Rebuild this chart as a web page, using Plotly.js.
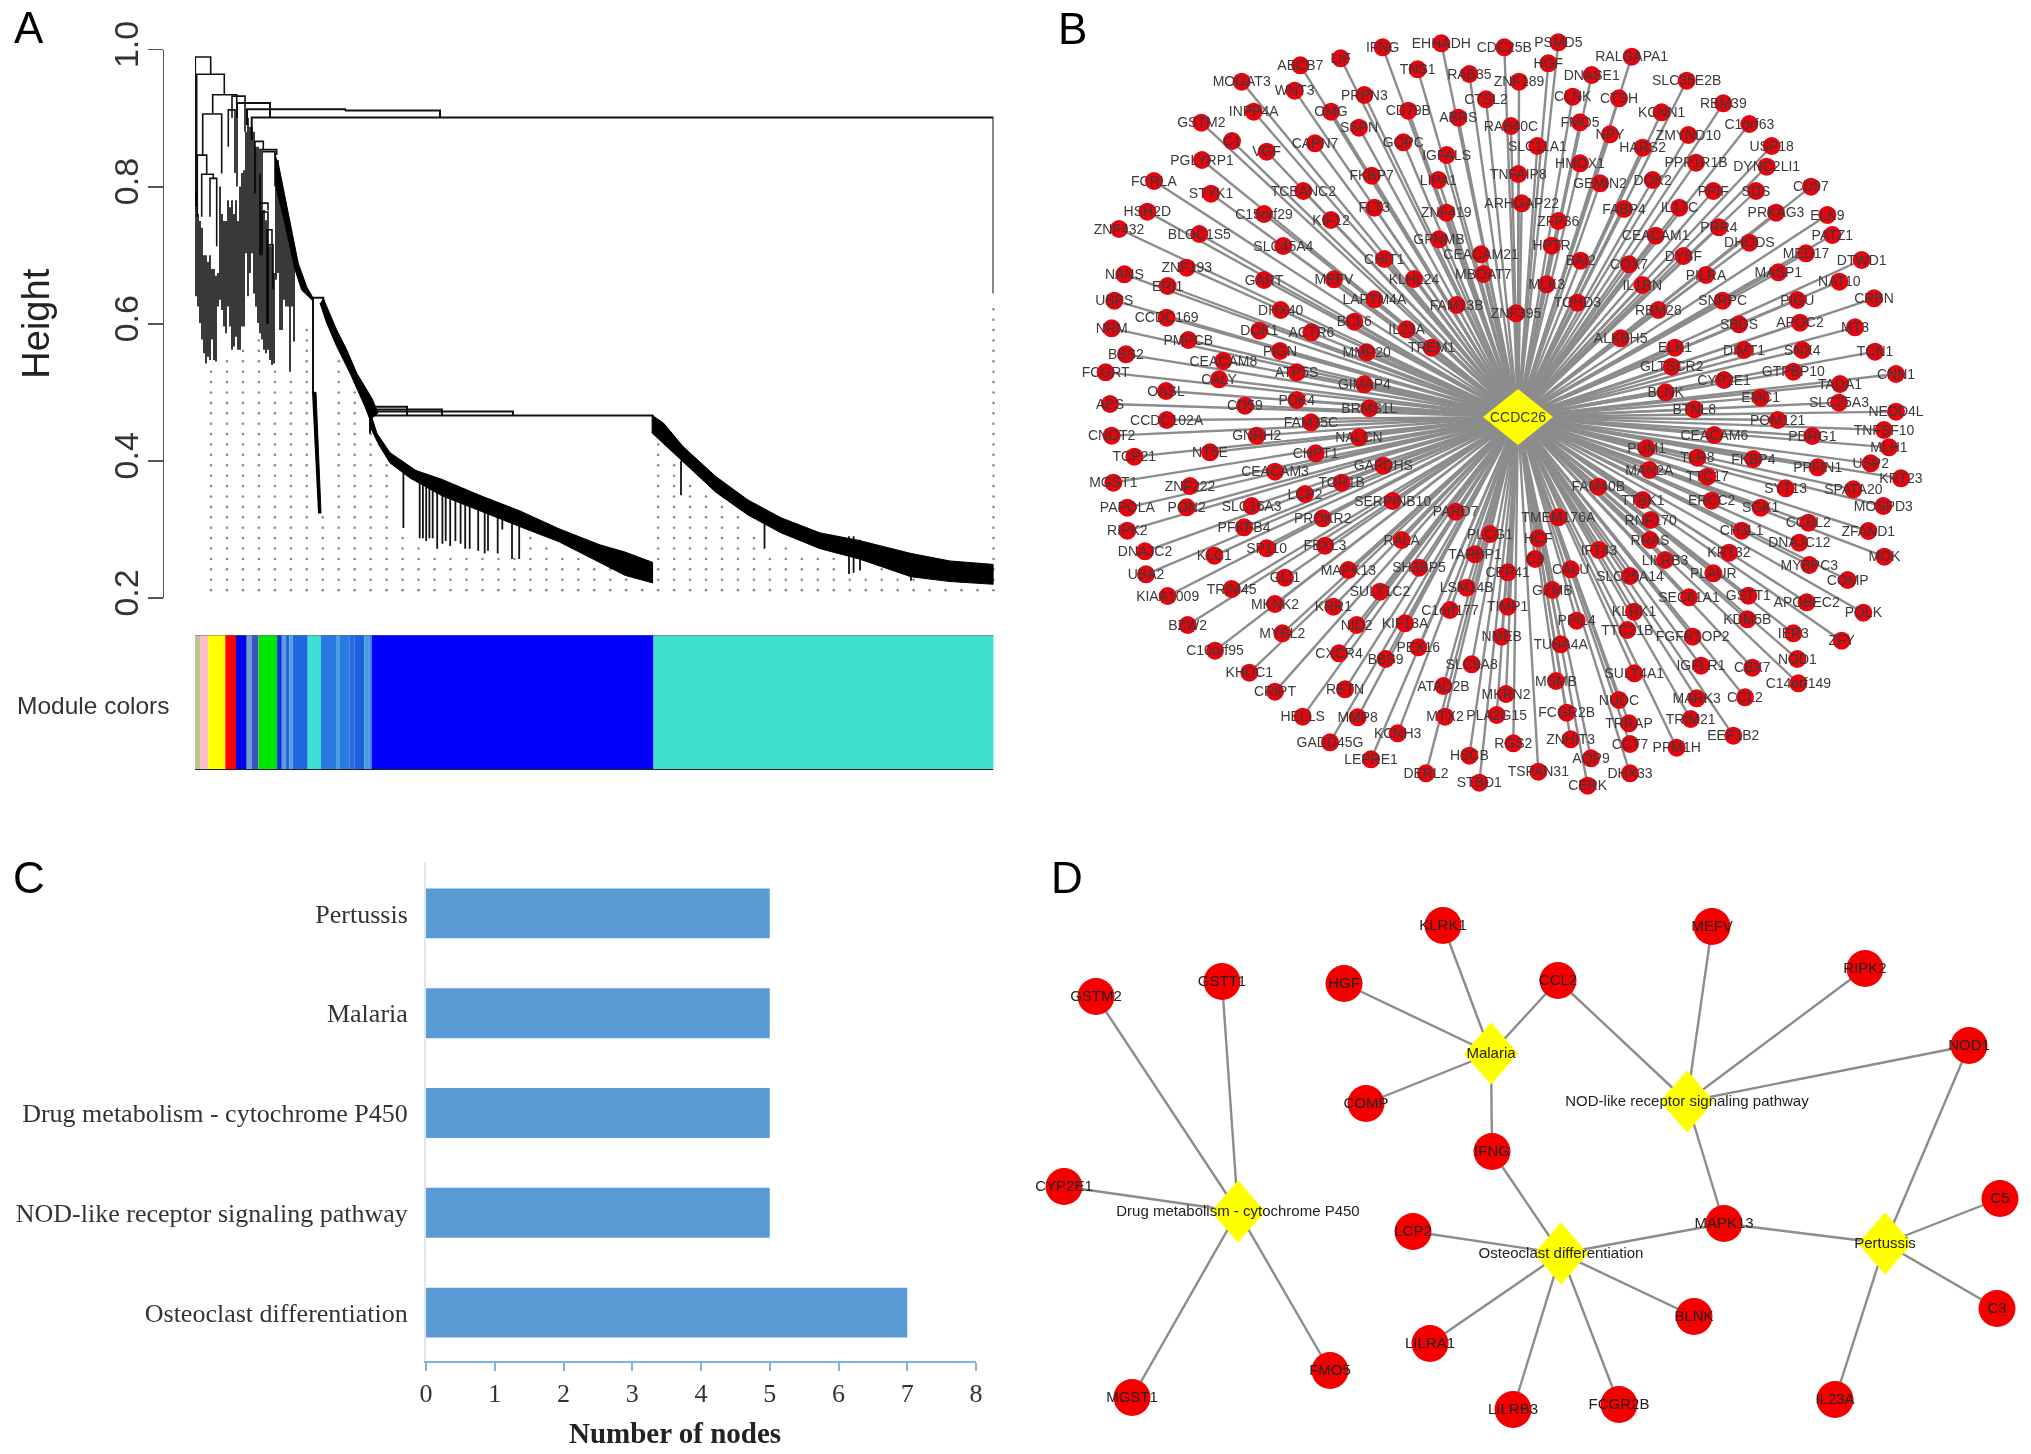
<!DOCTYPE html>
<html><head><meta charset="utf-8">
<script src="https://cdn.plot.ly/plotly-3.0.1.min.js"></script>
<style>html,body{margin:0;padding:0;background:#fff}#chart{width:2031px;height:1454px;filter:blur(0.6px)}</style>
</head><body><div id="chart"></div>
<script>
// ---------- Panel A: dendrogram merges [x0, x1, height, leftLegEnd, rightLegEnd]
const merges = [
 [195.3,210.7,.989,.771,.964],[196.7,224.3,.964,.771,.935],[212.7,236.7,.934,.907,.92],[232,245,.932,.90,.92],
 [202.7,221.7,.906,.846,.819],[197.3,206.7,.846,.756,.818],[201.7,213.3,.818,.756,.812],[210,216.7,.812,.756,.713],
 [228.3,235,.912,.858,.82],[237,245,.922,.80,.88],[255,263.3,.866,.79,.854],[260,276.7,.854,.776,.846],
 [262,275,.851,.776,.80],[260,268,.776,.70,.765],[262,268,.763,.70,.737],[267,272,.737,.60,.715],[268,273,.715,.60,.65]
];
const thickMerges = [
 [237,270,.922,.90,.90],[247,345,.913,.89,.911],[345,440,.911,.911,.901],[251.7,993.5,.901,.868,.644],
 [371.7,407,.479,.466,.466],[371.7,442,.475,.466,.466],[371.7,513,.472,.466,.466],[370,652.6,.466,.44,.44],
 [313,323.3,.638,.50,.63]
];
const clutterX = [196,198,200,202,204,206,208,210,212,214,216,218,220,222,224,226,228,230,232,234,236,238,240,242,244,246,248,250,252,254,256,258,260,262,264,266,268,270,272,274,276,278,280,282,284,286,288,290,292,294];
const clutterTop = [.790,.760,.750,.740,.700,.700,.690,.700,.680,.680,.670,.674,.800,.760,.750,.750,.780,.770,.780,.760,.780,.750,.800,.820,.824,.880,.900,.887,.887,.880,.858,.858,.819,.776,.766,.751,.737,.713,.713,.674,.830,.839,.819,.790,.785,.776,.747,.727,.713,.698];
const clutterBottom = [.640,.625,.601,.577,.557,.542,.552,.547,.577,.547,.545,.625,.635,.620,.596,.586,.625,.596,.562,.567,.581,.562,.562,.596,.596,.703,.640,.674,.703,.644,.625,.601,.586,.577,.562,.557,.562,.547,.540,.542,.664,.674,.591,.591,.635,.625,.625,.530,.625,.574];
const bandA_x = [275,276.7,283.3,288.3,295,301.7,311.7,313.3,306.7,298.3,291.7,285,278.3];
const bandA_h = [.849,.795,.756,.722,.679,.649,.635,.637,.654,.688,.737,.785,.834];
const bandB_x = [320,326.7,336.7,350,365,370,378,372,356.7,346.7,336.7,323.3];
const bandB_h = [.630,.601,.567,.528,.479,.460,.470,.491,.528,.562,.591,.637];
const bandC_x = [370,377,390,416,442,481,520,559,599,625,652.6,652.6,625,599,559,520,481,442,410,390,379,370];
const bandC_h = [.472,.440,.412,.386,.373,.349,.327,.301,.278,.267,.252,.222,.233,.252,.282,.304,.326,.349,.375,.397,.423,.450];
const bandD_x = [652.6,663.6,683,716,748,781,820,859,911,950,993.5,993.5,950,911,859,820,781,748,716,683,663.6,652.6];
const bandD_h = [.466,.455,.421,.377,.343,.317,.295,.284,.265,.254,.249,.220,.224,.231,.257,.272,.295,.321,.354,.399,.425,.440];
const spike_x = [312,316,321,318];
const spike_h = [.50,.50,.324,.324];
const hangX = [403.4,419.7,422.9,426.2,429.4,432.7,437.2,442.4,445.7,450.2,455.4,460.6,465.2,469.7,478.2,484.7,488,497.7,502.3,512,519.2,681,764.5,849,853.6,860,911];
const hangTop = [.385,.37,.37,.37,.365,.365,.36,.355,.35,.345,.345,.34,.34,.335,.33,.33,.325,.32,.32,.31,.31,.40,.32,.29,.29,.285,.24];
const hangBottom = [.302,.287,.287,.283,.287,.287,.272,.279,.283,.276,.283,.279,.272,.272,.269,.265,.269,.265,.30,.257,.257,.35,.272,.235,.237,.24,.225];
const guideTop = [.544,.559,.566,.581,.540,.529,.596,.324,.559,.522,.469,.402,.302,.287,.272,.272,.269,.267,.265,.257,.291,.283,.272,.257,.250,.243,.231,.224,.432,.402,.373,.354,.336,.321,.302,.272,.283,.272,.261,.257,.235,.235,.243,.235,.228,.224,.224,.220,.220,.622];
// Module colour strip
const moduleWidths = [5,8.3,17,10.7,10.7,5,6.7,18.7,4.7,4.3,3.3,3.3,15,13.3,15,3.3,10,5,10,5,2.3,281.9,340.9];
const moduleColors = ['#b9c98c','#ffc0cb','#ffff00','#ff0000','#0000ee','#6b9fc9','#3a55c0','#00e600','#0a2fe0','#5d9ae0','#2060e0','#50a0e0','#2068e0','#40e0d0','#2a78e0','#4aa0e0','#2a7ce0','#2a68e0','#1a60e0','#40a0e0','#3a80e0','#0000ff','#40e0d0'];

// ---------- Panel B: network nodes [name, x, y], read per 3x crop
const nodesB_topLeft = [["IFNG",1028,82],["EHHADH",1204,70],["CDC25B",1393,82],["ABCB7",781,136],["LIF",902,115],["TNS1",1133,148],["RAB35",1288,162],["ZNF189",1437,185],["MOGAT3",605,185],["WNT3",764,212],["PRPN3",973,225],["CTSL2",1338,238],["CD79B",1105,272],["ABRS",1255,293],["INPP4A",641,275],["OMG",873,275],["GSTM2",484,308],["SSPN",957,323],["RAB40C",1413,318],["C1",576,363],["CAPN7",825,370],["GOPC",1090,367],["VGF",680,395],["IGFALS",1220,405],["PGLYRP1",486,420],["TNFAIP8",1435,462],["FKBP7",995,467],["LIPA1",1195,480],["FCRLA",342,483],["TCEANC2",790,513],["STYK1",513,521],["ARHGAP22",1445,550],["FLT3",1003,563],["ZNF419",1219,578],["C15orf29",672,582],["HSH2D",322,575],["KIF12",873,600],["ZNF432",237,627],["BLOC1S5",478,642],["GPNMB",1197,658],["SLC45A4",730,678],["CEACAM21",1323,703],["CHIT1",1033,717],["ZNF193",440,743],["MEFV",882,778],["KLHL24",1122,777],["MBOAT7",1330,762],["NANS",253,763],["ERI1",383,798],["GART",672,780],["LAPTM4A",1003,838],["FAM13B",1250,855],["UBPS",223,842],["DHX40",722,870],["CCDC169",380,893],["ZNF395",1428,880],["BCL6",943,905],["NRM",215,925],["DOK1",658,932],["ACTR6",814,937],["IL23A",1100,928],["TREM1",1175,983],["PMPCB",445,960],["PIGN",720,993],["BBS2",258,1003],["MMP20",980,997],["CEACAM8",550,1023],["ATP5S",770,1057],["FCGRT",197,1057],["GIMAP4",973,1093],["CALY",537,1078],["OASL",378,1113],["AES",210,1152],["CD59",615,1157],["PDK4",770,1140],["BRMS1L",988,1165]];
const nodesB_topRight = [["PSMD5",115,67],["HGF",85,130],["RALGAPA1",335,110],["DNASE1",215,165],["SLC35E2B",500,182],["CLNK",158,230],["CTSH",297,235],["RBM39",610,250],["KCNN1",425,277],["FMO5",180,307],["C1orf63",688,312],["NPY",270,343],["ZMYND10",505,345],["SLC11A1",52,378],["HARS2",368,383],["USP18",755,378],["HMOX1",180,430],["PPP1R1B",528,428],["DYNC2LI1",740,440],["GEMIN2",240,490],["DOK2",398,480],["PPIF",580,513],["SDS",708,513],["CD97",873,500],["ZFP36",115,603],["FABP4",312,567],["IL17C",478,563],["PRKAG3",768,578],["ELK9",922,585],["PRR4",597,622],["CEACAM1",407,647],["DHODS",688,668],["PATZ1",937,645],["HPTR",95,677],["BAI2",182,722],["COX7",327,733],["DYSF",490,708],["MED17",858,700],["DTWD1",1025,720],["PILRA",558,765],["MASP1",775,757],["NAT10",958,785],["MLK3",80,793],["IL1RN",367,795],["SNRPC",608,842],["PIGU",832,840],["TOHD3",172,848],["RBM28",415,870],["CRBN",1062,835],["SBDS",657,913],["APOC2",840,908],["MT3",1005,922],["ALKBH5",302,955],["ELK1",465,983],["DIMT1",672,990],["SNX4",847,990],["TCN1",1065,995],["GLTSCR2",455,1040],["GTPBP10",820,1055],["CNN1",1128,1062],["CYP2E1",612,1080],["TADA1",960,1092],["BLNK",437,1117],["EMC1",722,1133],["SLC25A3",957,1148],["BTNL8",523,1168],["NEDD4L",1128,1175]];
const nodesB_bottomLeft = [["CCDC102A",380,30],["FAM35C",813,37],["CNOT2",215,77],["GNRH2",650,77],["NALCN",957,82],["TCP21",283,140],["NT5E",510,127],["CHPT1",827,130],["GAPDHS",1030,167],["MGST1",220,218],["CEACAM3",705,185],["ZNF222",450,228],["TOR1B",905,218],["LCP2",795,252],["SERPINB10",1058,273],["PAPOLA",262,293],["PON2",440,292],["SLC16A3",635,288],["PROKR2",848,325],["PARD7",1247,305],["RIPK2",262,362],["PFKFB4",612,352],["PLCG1",1350,372],["FBXL3",855,407],["RALA",1085,390],["SP110",680,415],["DNAJC2",315,424],["KLC1",523,437],["TARBP1",1305,433],["MAPK13",925,480],["SH3BP5",1137,473],["CEP41",1403,487],["UBA2",318,493],["GLI1",735,503],["SULT1C2",1020,545],["LSM14B",1280,533],["TRIM45",575,537],["KIAA1009",383,558],["MKNK2",705,582],["KRR1",880,590],["C1orf177",1230,600],["TIMP1",1403,590],["NID2",950,645],["KIF13A",1095,640],["BZW2",443,645],["MYBL2",727,670],["PEX16",1135,712],["NMEB",1385,680],["C10orf95",525,722],["CXCR4",897,730],["BBS9",1037,747],["SLC9A8",1295,763],["KHDC1",628,788],["CRIPT",705,845],["RETN",915,838],["ATAD2B",1210,828],["MKRN2",1398,852],["HELLS",788,920],["MMP8",953,922],["MTX2",1215,920],["PLA2G15",1370,915],["KCNH3",1073,970],["GADD45G",870,997],["RGS2",1420,1000],["LEPRE1",993,1048],["HSCB",1288,1037],["DERL2",1158,1090],["STBD1",1318,1118]];
const nodesB_bottomRight = [["POM121",773,30],["TNFSF10",1092,60],["CEACAM6",583,75],["PDRG1",877,78],["MLH1",1107,112],["PUM1",380,115],["TLR8",532,143],["FKBP4",700,147],["PPFIN1",893,172],["USP2",1052,160],["MAN2A",388,180],["KRT23",1143,205],["TTC17",562,200],["FAM40B",235,230],["SYT13",797,235],["SPATA20",1000,238],["TTBK1",368,270],["ERCC2",575,272],["SGK1",722,293],["MOSPD3",1090,288],["TMEM176A",115,322],["RNF170",392,330],["CCBL2",865,338],["HCF",55,385],["CH3L1",665,362],["ZFAND1",1045,363],["RRAS",390,390],["DNAJC12",838,398],["C3",45,447],["IFT43",237,420],["KRT32",627,428],["LILRB3",435,450],["MOK",1093,440],["CALU",152,478],["SLC25A14",330,498],["PLAUR",580,490],["MYBPC3",868,465],["COMP",983,510],["GZMB",97,540],["SEC61A1",507,562],["GSTT1",685,557],["APOBEC2",860,577],["POLK",1030,608],["KLRK1",342,605],["KDM5B",682,628],["PPIL4",170,632],["TTC21B",322,660],["FGFR1OP2",518,680],["IER3",820,670],["ZFY",965,692],["TUBA4A",122,703],["IGFLR1",543,767],["NOD1",832,747],["CBX7",697,773],["MSMB",108,813],["C14orf149",835,820],["SULT4A1",343,790],["NUDC",297,870],["MARK3",530,865],["CCL2",675,862],["FCGR2B",140,908],["TRRAP",327,940],["TRIM21",512,927],["EEF1B2",640,977],["ZNHIT3",152,988],["CCT7",330,1002],["PPM1H",470,1013],["AQP9",213,1045],["TSPAN31",55,1085],["DHX33",330,1090],["CERK",203,1127]];
const hubB = {name:"CCDC26", x:1518, y:417};

// ---------- Panel C
const pathways = ["Osteoclast differentiation","NOD-like receptor signaling pathway","Drug metabolism - cytochrome P450","Malaria","Pertussis"];
const nodeCounts = [7,5,5,5,5];

// ---------- Panel D
const genesD = {GSTM2:[1096,995],GSTT1:[1222,980],KLRK1:[1443,924],HGF:[1344,982],CCL2:[1558,979],MEFV:[1712,925],RIPK2:[1865,967],NOD1:[1969,1044],COMP:[1366,1102],IFNG:[1492,1150],CYP2E1:[1064,1185],LCP2:[1413,1230],MAPK13:[1724,1222],C5:[2000,1197],C3:[1997,1307],BLNK:[1694,1315],LILRA1:[1430,1342],FMO5:[1330,1369],MGST1:[1132,1396],LILRB3:[1513,1408],FCGR2B:[1619,1403],IL23A:[1835,1398]};
const hubsD = {"Malaria":[1491,1052],"NOD-like receptor signaling pathway":[1687,1100],"Drug metabolism - cytochrome P450":[1238,1210],"Osteoclast differentiation":[1561,1252],"Pertussis":[1885,1242]};
const linksD = {"Drug metabolism - cytochrome P450":["GSTM2","GSTT1","CYP2E1","FMO5","MGST1"],"Malaria":["KLRK1","HGF","CCL2","COMP","IFNG"],"NOD-like receptor signaling pathway":["CCL2","MEFV","RIPK2","NOD1","MAPK13"],"Osteoclast differentiation":["IFNG","LCP2","MAPK13","BLNK","FCGR2B","LILRB3","LILRA1"],"Pertussis":["NOD1","MAPK13","C5","C3","IL23A"]};

// ---------- Build
const W=2031,H=1454, fx=p=>p/W, fy=p=>1-p/H;
const sans='"Liberation Sans", Arial, sans-serif', serif='"Liberation Serif", "Times New Roman", serif';
const traces=[];
function segs(list){const x=[],y=[];list.forEach(s=>{x.push(...s[0],null);y.push(...s[1],null)});return{x,y}}
const lineTrace=(d,w,c,xa,ya,o)=>Object.assign({type:'scatter',mode:'lines',x:d.x,y:d.y,xaxis:xa,yaxis:ya,line:{color:c,width:w},hoverinfo:'skip',showlegend:false},o||{});

// guide dots
const dotX=[],dotY=[];
guideTop.forEach((top,k)=>{const x=195+15.97*(k+1);for(let h=.1508;h<top;h+=.01517){dotX.push(x);dotY.push(h)}});
traces.push({type:'scatter',mode:'markers',x:dotX,y:dotY,xaxis:'x',yaxis:'y',cliponaxis:false,marker:{size:2.6,color:'#8a8a8a'},hoverinfo:'skip',showlegend:false});
// merges
const mk=m=>[[m[0],m[0],m[1],m[1]],[m[3],m[2],m[2],m[4]]];
traces.push(lineTrace(segs(merges.map(mk)),1.6,'#111','x','y'));
traces.push(lineTrace(segs(thickMerges.map(mk)),2,'#111','x','y'));
traces.push(lineTrace(segs(clutterX.map((x,i)=>[[x,x],[clutterTop[i],clutterBottom[i]]])),1.55,'#000','x','y'));
traces.push(lineTrace(segs(hangX.map((x,i)=>[[x,x],[hangTop[i],hangBottom[i]]])),1.8,'#111','x','y'));
[[bandA_x,bandA_h],[bandB_x,bandB_h],[bandC_x,bandC_h],[bandD_x,bandD_h],[spike_x,spike_h]].forEach(b=>{
 traces.push({type:'scatter',mode:'lines',x:b[0],y:b[1],xaxis:'x',yaxis:'y',fill:'toself',fillcolor:'#000',line:{color:'#000',width:1},hoverinfo:'skip',showlegend:false});
});
// module strip
let cum=195;const modBase=moduleWidths.map(w=>{const b=cum;cum+=w;return b});
traces.push({type:'bar',orientation:'h',x:moduleWidths,base:modBase,y:moduleWidths.map(()=>0),width:1,xaxis:'x2',yaxis:'y2',marker:{color:moduleColors,line:{width:0}},hoverinfo:'skip',showlegend:false});
traces.push(lineTrace({x:[195,993.5],y:[.5,.5]},1.2,'#666','x2','y2',{cliponaxis:false}));
traces.push(lineTrace({x:[195,993.5],y:[-.5,-.5]},2,'#222','x2','y2',{cliponaxis:false}));
// Panel C
traces.push({type:'bar',orientation:'h',y:pathways,x:nodeCounts,xaxis:'x3',yaxis:'y3',marker:{color:'#5b9bd5',line:{width:0}},hoverinfo:'skip',showlegend:false});
// Panel B
const placed=[];
[[nodesB_topLeft,1040,20],[nodesB_topRight,1520,20],[nodesB_bottomLeft,1040,410],[nodesB_bottomRight,1520,410]].forEach(q=>{
 q[0].forEach(n=>placed.push({name:n[0],x:q[1]+n[1]/3,y:q[2]+n[2]/3}));
});
traces.push(lineTrace(segs(placed.map(n=>[[n.x,hubB.x],[n.y,hubB.y]])),2.4,'#8c8c8c','x4','y4'));
traces.push({type:'scatter',mode:'markers',x:placed.map(n=>n.x),y:placed.map(n=>n.y),xaxis:'x4',yaxis:'y4',marker:{size:18,color:'#e3060f'},hoverinfo:'skip',showlegend:false});
const diamond=(c,hw,hh,xa,ya)=>({type:'scatter',mode:'lines',x:[c[0]-hw,c[0],c[0]+hw,c[0],c[0]-hw],y:[c[1],c[1]-hh,c[1],c[1]+hh,c[1]],fill:'toself',fillcolor:'#ffff00',line:{color:'#ffff00',width:0},xaxis:xa,yaxis:ya,hoverinfo:'skip',showlegend:false});
traces.push(diamond([hubB.x,hubB.y],35,28,'x4','y4'));
traces.push({type:'scatter',mode:'text',x:placed.map(n=>n.x).concat(hubB.x),y:placed.map(n=>n.y+1).concat(hubB.y+1),text:placed.map(n=>n.name).concat(hubB.name),textposition:'middle center',textfont:{family:sans,size:14,color:'#3a3a3a'},xaxis:'x4',yaxis:'y4',cliponaxis:false,hoverinfo:'skip',showlegend:false});
// Panel D
const edgesD=[];Object.keys(linksD).forEach(h=>linksD[h].forEach(g=>edgesD.push([[hubsD[h][0],genesD[g][0]],[hubsD[h][1],genesD[g][1]]])));
traces.push(lineTrace(segs(edgesD),2.4,'#8c8c8c','x5','y5'));
const gn=Object.keys(genesD),hn=Object.keys(hubsD);
traces.push({type:'scatter',mode:'markers',x:gn.map(g=>genesD[g][0]),y:gn.map(g=>genesD[g][1]),xaxis:'x5',yaxis:'y5',marker:{size:37,color:'#f40000'},hoverinfo:'skip',showlegend:false});
hn.forEach(h=>traces.push(diamond(hubsD[h],27,31,'x5','y5')));
traces.push({type:'scatter',mode:'text',x:gn.map(g=>genesD[g][0]).concat(hn.map(h=>hubsD[h][0])),y:gn.map(g=>genesD[g][1]+1).concat(hn.map(h=>hubsD[h][1]+1)),text:gn.concat(hn),textposition:'middle center',textfont:{family:sans,size:15,color:'#222'},xaxis:'x5',yaxis:'y5',cliponaxis:false,hoverinfo:'skip',showlegend:false});

const hidden={visible:false,fixedrange:true};
const letter=(t,x,y)=>({text:t,xref:'paper',yref:'paper',x:fx(x),y:fy(y),showarrow:false,xanchor:'center',yanchor:'middle',font:{family:sans,size:44,color:'#000'}});
const layout={
 width:W,height:H,margin:{l:0,r:0,t:0,b:0},paper_bgcolor:'#fff',plot_bgcolor:'rgba(0,0,0,0)',showlegend:false,barmode:'overlay',
 xaxis:Object.assign({},hidden,{domain:[fx(195),fx(993.5)],range:[195,993.5],anchor:'y'}),
 yaxis:{domain:[fy(598),fy(49.5)],range:[.2,1],anchor:'free',position:fx(162.6),tickmode:'array',tickvals:[.2,.4,.6,.8,1],ticktext:['0.2','0.4','0.6','0.8','1.0'],tickangle:-90,ticks:'outside',ticklen:15,tickwidth:1.8,tickcolor:'#555',showline:true,linecolor:'#555',linewidth:1.8,showgrid:false,zeroline:false,ticklabelstandoff:-4,tickfont:{family:sans,size:34,color:'#333'},title:{text:'Height',font:{family:sans,size:38,color:'#222'},standoff:44}},
 xaxis2:Object.assign({},hidden,{domain:[fx(195),fx(993.5)],range:[195,993.5],anchor:'y2'}),
 yaxis2:Object.assign({},hidden,{domain:[fy(770),fy(635)],range:[-.5,.5],anchor:'x2'}),
 xaxis3:{domain:[fx(426),fx(976)],range:[0,8],anchor:'y3',dtick:1,ticks:'outside',ticklen:8,tickwidth:2,tickcolor:'#7fb2dc',showline:true,linecolor:'#7fb2dc',linewidth:2,showgrid:false,zeroline:false,tickfont:{family:serif,size:26,color:'#333'}},
 yaxis3:{domain:[fy(1361),fy(862)],range:[-.485,4.515],anchor:'x3',type:'category',categoryorder:'array',categoryarray:pathways,showline:true,linecolor:'#dfe7ee',linewidth:2,ticks:'',showgrid:false,zeroline:false,ticklabelstandoff:11,tickfont:{family:serif,size:26,color:'#333'}},
 bargap:.5,
 xaxis4:Object.assign({},hidden,{domain:[fx(1040),1],range:[1040,2031],anchor:'y4'}),
 yaxis4:Object.assign({},hidden,{domain:[fy(830),1],range:[830,0],anchor:'x4'}),
 xaxis5:Object.assign({},hidden,{domain:[fx(1030),1],range:[1030,2031],anchor:'y5'}),
 yaxis5:Object.assign({},hidden,{domain:[0,fy(840)],range:[1452.5,838.5],anchor:'x5'}),
 annotations:[letter('A',29,28),letter('B',1072,29),letter('C',29,877),letter('D',1067,877),
  {text:'Module colors',xref:'paper',yref:'paper',x:fx(93),y:fy(705),showarrow:false,xanchor:'center',yanchor:'middle',font:{family:sans,size:24.5,color:'#333'}},
  {text:'<b>Number of nodes</b>',xref:'paper',yref:'paper',x:fx(675),y:fy(1433),showarrow:false,xanchor:'center',yanchor:'middle',font:{family:serif,size:29,color:'#222'}}]
};
Plotly.newPlot('chart',traces,layout,{displayModeBar:false,staticPlot:true});
</script></body></html>
